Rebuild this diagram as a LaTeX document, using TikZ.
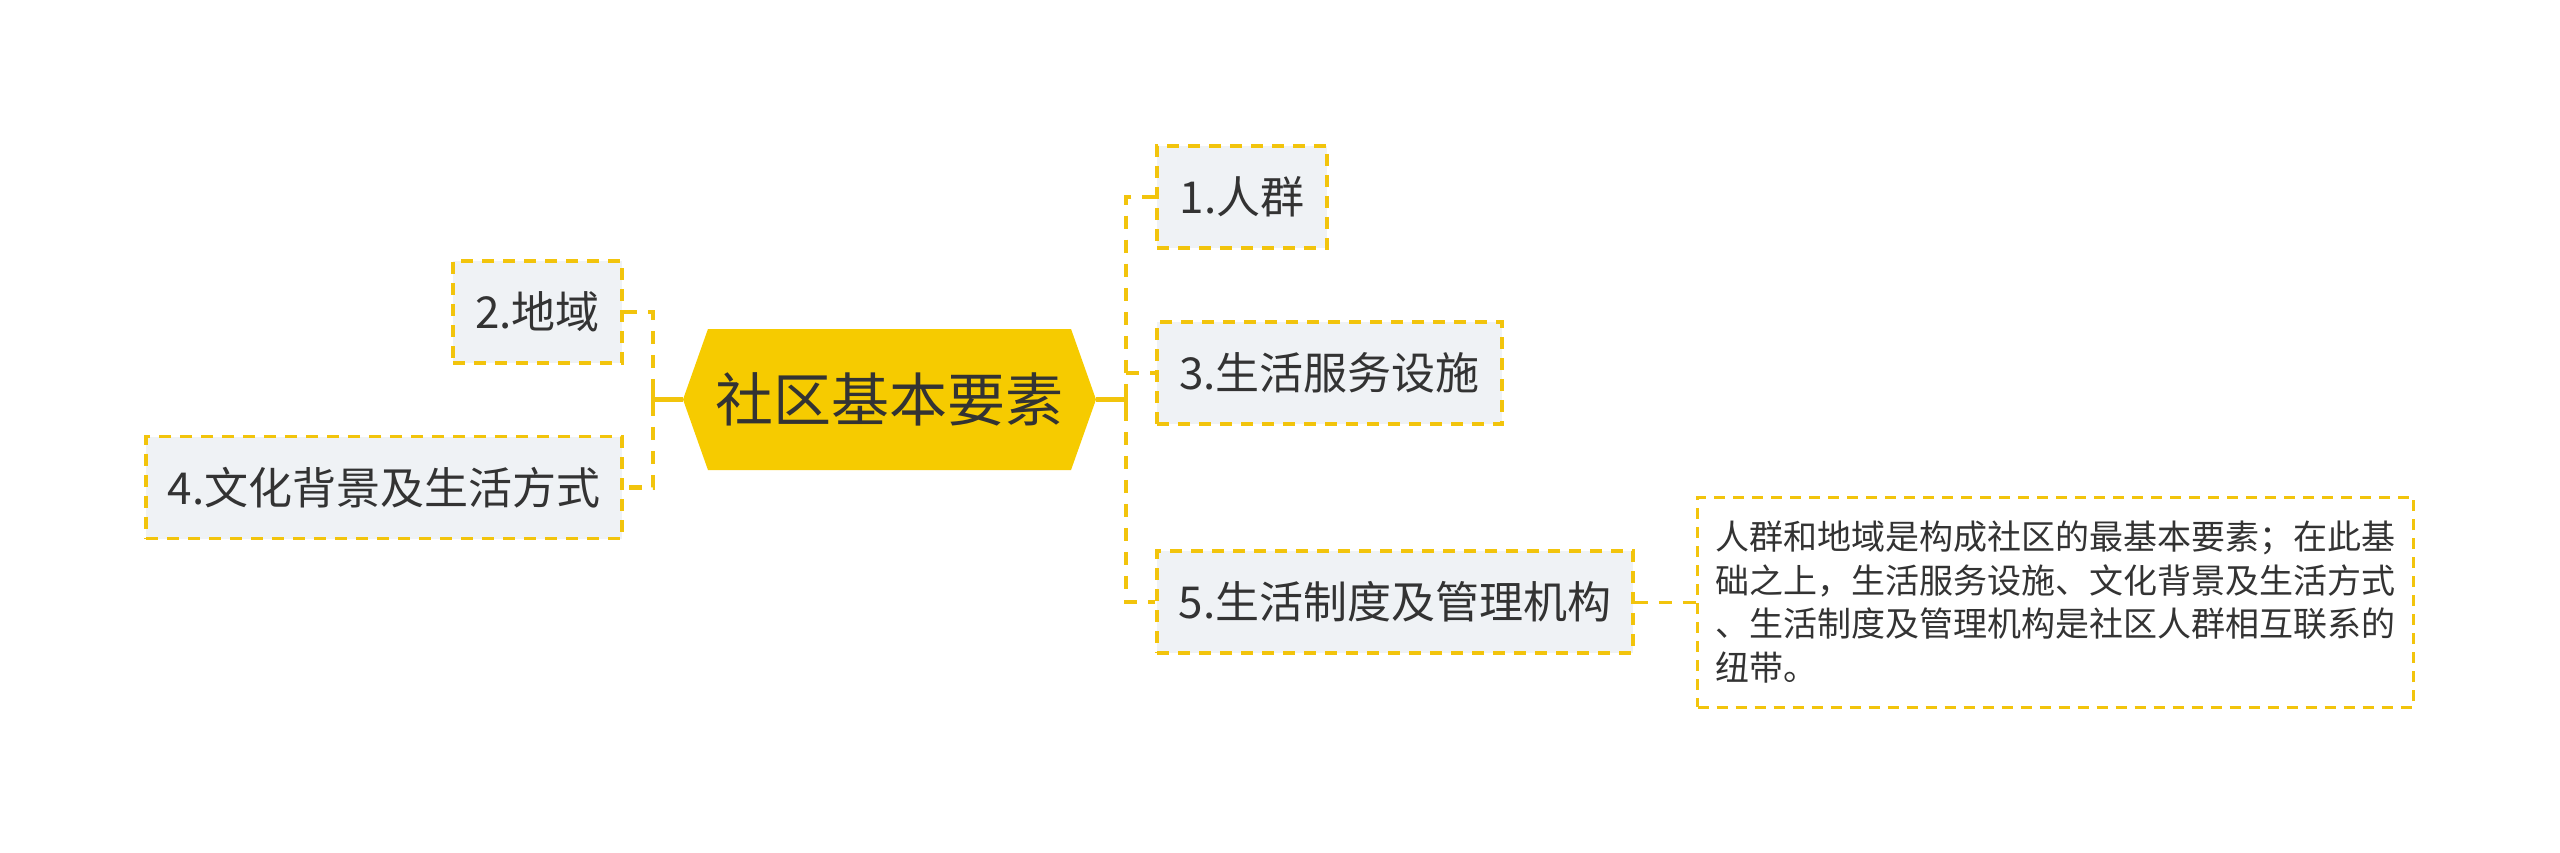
\documentclass[tikz,border=0pt]{standalone}
\usepackage{fontspec}
\setmainfont{Noto Sans CJK SC}
\usetikzlibrary{shapes.symbols}

\definecolor{hubyellow}{HTML}{F6CB00}
\definecolor{linkyellow}{HTML}{F2C40C}
\definecolor{leafgray}{HTML}{EFF2F5}
\definecolor{inkgray}{HTML}{333333}

\tikzset{
  hub/.style={shape=signal, signal to=east and west, signal pointer angle=141,
    fill=hubyellow, text=inkgray, font=\fontsize{58}{68}\selectfont,
    minimum width=413pt, minimum height=141pt, inner sep=0pt},
  leaf/.style={draw=linkyellow, line width=3.5pt, dash pattern=on 12pt off 9pt,
    fill=leafgray, text=inkgray, font=\fontsize{44}{52}\selectfont,
    minimum height=102pt, inner xsep=0pt},
  memo/.style={draw=linkyellow, line width=3pt, dash pattern=on 11pt off 8pt,
    fill=white, text=inkgray, font=\fontsize{34}{43.5}\selectfont,
    minimum height=210pt, text width=680pt, align=left, inner xsep=18pt},
  stem/.style={draw=linkyellow, line width=4.5pt},
  branch/.style={draw=linkyellow, line width=4.5pt, dash pattern=on 13pt off 11pt},
}

\begin{document}
\begin{tikzpicture}[x=1pt,y=-1pt]
\useasboundingbox (0,0) rectangle (2560,853);

% centre topic
\node[hub] (root) at (889.5,399.5) {社区基本要素};

% right branch
\node[leaf, minimum width=170pt] (n1) at (1242,197) {1.人群};
\node[leaf, minimum width=345pt] (n3) at (1329.5,373) {3.生活服务设施};
\node[leaf, minimum width=476pt] (n5) at (1395,602) {5.生活制度及管理机构};
\node[memo] (note) at (2055.5,602) {人群和地域是构成社区的最基本要素；在此基\\础之上，生活服务设施、文化背景及生活方式\\、生活制度及管理机构是社区人群相互联系的\\纽带。};

% left branch
\node[leaf, minimum width=169pt] (n2) at (537.5,312) {2.地域};
\node[leaf, minimum width=476pt] (n4) at (384,487.5) {4.文化背景及生活方式};

% connectors
\coordinate (rj) at (1126,399.5);
\coordinate (lj) at (653,399.5);
\draw[stem] (root.east) -- (rj) ++(0,-12) -- ++(0,24);
\draw[stem] (root.west) -- (lj) ++(0,-12) -- ++(0,24);
\draw[branch] (n1.west) -- (n1.west -| rj) -- (n5.west -| rj) -- (n5.west);
\draw[branch] (n3.west -| rj) -- (n3.west);
\draw[branch] (n2.east) -- (n2.east -| lj) -- (n4.east -| lj) -- (n4.east);
\draw[branch, line width=3pt] (n5.east) -- (note.west);
\end{tikzpicture}
\end{document}
